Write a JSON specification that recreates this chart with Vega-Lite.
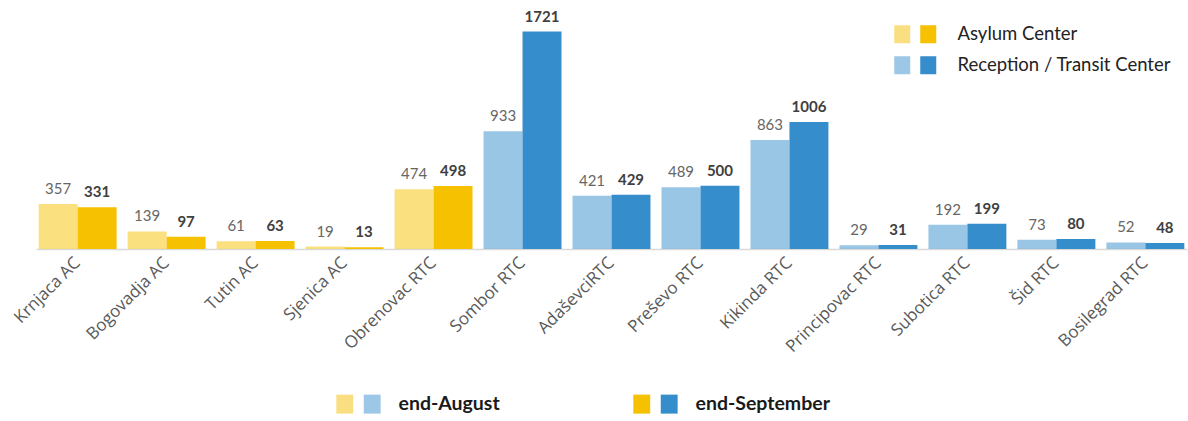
{
  "$schema": "https://vega.github.io/schema/vega-lite/v6.json",
  "width": 1151,
  "height": 240,
  "autosize": {"type": "none"},
  "padding": {"left": 36, "top": 9, "right": 1, "bottom": 172},
  "background": "white",
  "config": {"view": {"stroke": null}, "font": "Lato"},
  "data": {
    "values": [
      {"center": "Krnjaca AC", "type": "Asylum Center", "period": "end-August", "value": 357},
      {"center": "Krnjaca AC", "type": "Asylum Center", "period": "end-September", "value": 331},
      {"center": "Bogovadja AC", "type": "Asylum Center", "period": "end-August", "value": 139},
      {"center": "Bogovadja AC", "type": "Asylum Center", "period": "end-September", "value": 97},
      {"center": "Tutin AC", "type": "Asylum Center", "period": "end-August", "value": 61},
      {"center": "Tutin AC", "type": "Asylum Center", "period": "end-September", "value": 63},
      {"center": "Sjenica AC", "type": "Asylum Center", "period": "end-August", "value": 19},
      {"center": "Sjenica AC", "type": "Asylum Center", "period": "end-September", "value": 13},
      {"center": "Obrenovac RTC", "type": "Asylum Center", "period": "end-August", "value": 474},
      {"center": "Obrenovac RTC", "type": "Asylum Center", "period": "end-September", "value": 498},
      {"center": "Sombor RTC", "type": "Reception / Transit Center", "period": "end-August", "value": 933},
      {"center": "Sombor RTC", "type": "Reception / Transit Center", "period": "end-September", "value": 1721},
      {"center": "AdaševciRTC", "type": "Reception / Transit Center", "period": "end-August", "value": 421},
      {"center": "AdaševciRTC", "type": "Reception / Transit Center", "period": "end-September", "value": 429},
      {"center": "Preševo RTC", "type": "Reception / Transit Center", "period": "end-August", "value": 489},
      {"center": "Preševo RTC", "type": "Reception / Transit Center", "period": "end-September", "value": 500},
      {"center": "Kikinda RTC", "type": "Reception / Transit Center", "period": "end-August", "value": 863},
      {"center": "Kikinda RTC", "type": "Reception / Transit Center", "period": "end-September", "value": 1006},
      {"center": "Principovac RTC", "type": "Reception / Transit Center", "period": "end-August", "value": 29},
      {"center": "Principovac RTC", "type": "Reception / Transit Center", "period": "end-September", "value": 31},
      {"center": "Subotica RTC", "type": "Reception / Transit Center", "period": "end-August", "value": 192},
      {"center": "Subotica RTC", "type": "Reception / Transit Center", "period": "end-September", "value": 199},
      {"center": "Šid RTC", "type": "Reception / Transit Center", "period": "end-August", "value": 73},
      {"center": "Šid RTC", "type": "Reception / Transit Center", "period": "end-September", "value": 80},
      {"center": "Bosilegrad RTC", "type": "Reception / Transit Center", "period": "end-August", "value": 52},
      {"center": "Bosilegrad RTC", "type": "Reception / Transit Center", "period": "end-September", "value": 48}
    ]
  },
  "encoding": {
    "x": {
      "field": "center",
      "type": "nominal",
      "sort": null,
      "scale": {"paddingInner": 0.124, "paddingOuter": 0.03},
      "axis": {
        "title": null,
        "labelAngle": -45,
        "labelAlign": "right",
        "labelBaseline": "middle",
        "labelFont": "Open Sans",
        "labelFontSize": 17,
        "labelColor": "#595959",
        "labelPadding": 11,
        "ticks": false,
        "grid": false,
        "domainColor": "#d9d9d9",
        "domainWidth": 1.5
      }
    },
    "xOffset": {
      "field": "period",
      "type": "nominal",
      "scale": {"domain": ["end-August", "end-September"], "paddingInner": 0, "paddingOuter": 0}
    },
    "y": {
      "field": "value",
      "type": "quantitative",
      "scale": {"domain": [0, 1900], "nice": false, "zero": true},
      "axis": null
    }
  },
  "layer": [
    {
      "mark": {"type": "bar"},
      "encoding": {
        "color": {
          "field": "type",
          "type": "nominal",
          "scale": {"domain": ["Asylum Center", "Reception / Transit Center"], "range": ["#F5C100", "#358DCB"]},
          "legend": null
        },
        "opacity": {
          "field": "period",
          "type": "nominal",
          "scale": {"domain": ["end-August", "end-September"], "range": [0.5, 1]},
          "legend": null
        }
      }
    },
    {
      "transform": [{"filter": "datum.period === 'end-August'"}],
      "mark": {"type": "text", "baseline": "alphabetic", "dy": -10, "font": "Lato", "fontSize": 15, "color": "#666666"},
      "encoding": {"text": {"field": "value", "type": "quantitative"}}
    },
    {
      "transform": [{"filter": "datum.period === 'end-September'"}],
      "mark": {"type": "text", "baseline": "alphabetic", "dy": -10, "font": "Lato", "fontSize": 15, "fontWeight": "bold", "color": "#404040"},
      "encoding": {"text": {"field": "value", "type": "quantitative"}}
    },
    {
      "transform": [{"filter": "false"}],
      "mark": {"type": "square", "filled": true, "opacity": 1},
      "encoding": {
        "fill": {
          "field": "type",
          "type": "nominal",
          "scale": {"domain": ["Asylum Center", "Reception / Transit Center"], "range": ["#FADF82", "#9CC7E6"]},
          "legend": {
            "orient": "none", "legendX": 857, "legendY": 16, "title": null, "padding": 0,
            "symbolType": "M-0.889,-1H0.889V1H-0.889Z", "symbolSize": 324, "symbolStrokeWidth": 0, "symbolOpacity": 1,
            "labelFont": "Lato", "labelFontSize": 18.5, "labelLimit": 400, "labelColor": "transparent", "labelOffset": 46, "rowPadding": 12
          }
        }
      }
    },
    {
      "transform": [{"filter": "false"}],
      "mark": {"type": "square", "filled": true, "opacity": 1},
      "encoding": {
        "fill": {
          "field": "type",
          "type": "nominal",
          "scale": {"domain": ["Asylum Center", "Reception / Transit Center"], "range": ["#F5C100", "#358DCB"]},
          "legend": {
            "orient": "none", "legendX": 857, "legendY": 16, "title": null, "padding": 0,
            "symbolType": "M2,-1H3.778V1H2Z", "symbolSize": 324, "symbolStrokeWidth": 0, "symbolOpacity": 1,
            "labelFont": "Lato", "labelFontSize": 18.5, "labelLimit": 400, "labelColor": "#222222", "labelOffset": 46, "rowPadding": 12
          }
        }
      }
    },
    {
      "transform": [{"filter": "false"}],
      "mark": {"type": "square", "filled": true, "opacity": 1},
      "encoding": {
        "fill": {
          "field": "period",
          "type": "nominal",
          "scale": {"domain": ["end-August", "end-September"], "range": ["#FADF82", "#F5C100"]},
          "legend": {
            "orient": "none", "direction": "horizontal", "legendX": 299, "legendY": 385, "title": null, "padding": 0,
            "symbolType": "M-0.889,-1H0.889V1H-0.889Z", "symbolSize": 361, "symbolStrokeWidth": 0, "symbolOpacity": 1,
            "labelFont": "Lato", "labelFontSize": 19.5, "labelFontWeight": "bold", "labelLimit": 400, "labelColor": "transparent", "labelOffset": 44, "columnPadding": 132
          }
        }
      }
    },
    {
      "transform": [{"filter": "false"}],
      "mark": {"type": "square", "filled": true, "opacity": 1},
      "encoding": {
        "fill": {
          "field": "period",
          "type": "nominal",
          "scale": {"domain": ["end-August", "end-September"], "range": ["#9CC7E6", "#358DCB"]},
          "legend": {
            "orient": "none", "direction": "horizontal", "legendX": 299, "legendY": 385, "title": null, "padding": 0,
            "symbolType": "M2,-1H3.778V1H2Z", "symbolSize": 361, "symbolStrokeWidth": 0, "symbolOpacity": 1,
            "labelFont": "Lato", "labelFontSize": 19.5, "labelFontWeight": "bold", "labelLimit": 400, "labelColor": "#1a1a1a", "labelOffset": 44, "columnPadding": 132
          }
        }
      }
    }
  ],
  "resolve": {"scale": {"fill": "independent"}, "legend": {"fill": "independent"}}
}
